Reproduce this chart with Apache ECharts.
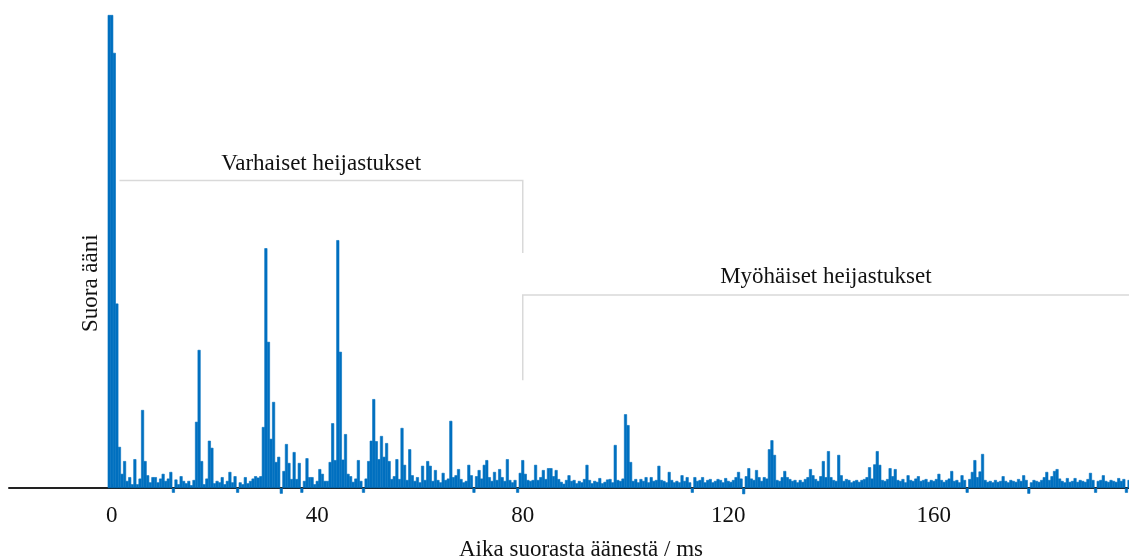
<!DOCTYPE html>
<html>
<head>
<meta charset="utf-8">
<script src="https://cdn.jsdelivr.net/npm/echarts@6/dist/echarts.min.js"></script>
<style>
html,body{margin:0;padding:0;background:#fff;}
#c{width:1129px;height:560px;}
</style>
</head>
<body>
<div id="c"></div>
<script>
// Direct sound (time in ms, relative amplitude)
const directTimes = [-0.5, 0, 0.5];
const directValues = [100, 100, 92];

// Reflections: sampled every 0.5 ms starting at 1.0 ms
const reflStart = 1.0;
const reflStep = 0.5;
const reflValues = [
  39, 8.7, 3, 5.7, 1.5, 2.3, 0.8, 6.1, 0.8, 2, 16.5, 5.7, 2.7, 1.2, 2.3, 2.3, 1.2, 2, 3, 1.5,
  2, 3.4, -1.0, 1.8, 0.8, 2.5, 1.5, 1.0, 1.5, 0.6, 1.7, 14, 29.2, 5.7, 0.8, 2, 10, 8.5, 1.0, 1.5,
  1.2, 2.3, 0.8, 1.5, 3.4, 1.2, 2.5, -1.0, 1.2, 0.8, 2.3, 1.0, 1.5, 2.0, 2.5, 2.2, 2.5, 12.9, 50.7, 30.9,
  10.4, 18.2, 5.5, 6.6, -1.2, 3.6, 9.3, 5.3, 1.9, 7.6, 1.9, 5.3, -1.0, 1.5, 6.3, 2.3, 2.3, 0.8, 1.5, 4.0,
  3.0, 1.5, 1.5, 5.5, 13.7, 5.9, 52.4, 28.8, 6, 11.4, 3, 2.5, 1.3, 2, 5.9, 1.5, -1.0, 2, 5.7, 10,
  18.8, 9.9, 6.1, 11, 6.6, 9.5, 5.7, 1.9, 2.5, 6.1, 1.9, 12.7, 4.9, 1.7, 8.2, 2.7, 1.5, 2.3, 1.2, 4.7,
  1.7, 5.7, 4.7, 1.5, 3.8, 1.7, 1.2, 3.2, 1.7, 2, 14.2, 2.3, 2.7, 4.0, 1.9, 1.2, 1.5, 4.9, 2.7, -1.0,
  2.5, 3.8, 2, 4.9, 5.9, 2.3, 1.5, 3.4, 1.7, 4.0, 2.3, 1.5, 6.1, 1.7, 1.2, 1.7, -1.0, 3.2, 5.9, 3.0,
  1.7, 1.5, 1.7, 4.9, 1.7, 2.3, 3.8, 1.9, 4.2, 4.2, 2.5, 3.8, 1.9, 1.3, 0.9, 1.7, 2.7, 1.5, 1.7, 1.0,
  1.5, 1.2, 1.9, 4.9, 1.7, 1.0, 1.5, 1.3, 2.1, 1.0, 1.3, 1.8, 1.9, 1.2, 9.1, 1.7, 1.5, 2, 15.6, 13.3,
  5.5, 1.5, 1.9, 1.2, 1.9, 1.5, 2.3, 1.2, 2.3, 1.5, 1.7, 4.7, 1.7, 1.5, 1.2, 3.4, 1.7, 1.2, 1.5, 1.2,
  2.7, 1.5, 2.3, 1.2, -1.0, 2.3, 1.5, 1.7, 2.3, 1.2, 1.7, 1.9, 1.2, 1.5, 1.9, 1.7, 1.2, 2.1, 1.5, 1.3,
  1.7, 2.3, 3.4, 2.0, -1.3, 2.5, 4.2, 2.0, 1.7, 3.8, 2.3, 1.5, 2.3, 2.0, 8.2, 10.1, 7.0, 1.7, 1.5, 2.3,
  3.6, 2.3, 1.9, 1.5, 1.7, 1.2, 1.7, 1.3, 1.9, 2.3, 4.0, 2.7, 1.9, 1.5, 2.5, 5.7, 2.3, 7.8, 2.3, 1.7,
  1.5, 7.0, 2.7, 1.5, 1.9, 1.7, 1.2, 1.5, 1.7, 1.3, 1.7, 1.9, 2.3, 4.4, 2.0, 5.0, 7.8, 4.9, 1.7, 1.5,
  1.9, 4.2, 2.5, 4.0, 1.7, 1.5, 1.9, 1.2, 2.7, 1.7, 1.5, 2.0, 2.5, 1.5, 1.7, 1.9, 1.3, 1.7, 1.5, 1.9,
  3.0, 1.7, 1.3, 1.7, 2.0, 3.6, 1.5, 1.7, 1.2, 2.7, 1.7, -1.0, 1.9, 3.4, 5.9, 2.3, 3.5, 7.2, 1.7, 1.3,
  1.5, 1.2, 1.7, 1.3, 1.5, 2.5, 1.5, 1.2, 1.7, 1.5, 1.3, 1.9, 1.5, 2.7, 1.7, -1.2, 1.2, 1.7, 1.5, 1.3,
  1.7, 2.3, 3.4, 1.7, 2.5, 3.6, 4.0, 2.0, 1.5, 1.2, 2.1, 1.3, 1.5, 2.1, 1.3, 1.7, 1.5, 1.3, 1.9, 3.2,
  1.7, -1.0, 1.5, 1.7, 2.7, 1.5, 1.3, 1.7, 1.5, 1.3, 2.1, 1.5, 1.9, -1.0, 1.7
];

const tickValues = [0, 40, 80, 120, 160];
const xTitle = 'Aika suorasta äänestä / ms';
const labelDirect = 'Suora ääni';
const labelEarly = 'Varhaiset heijastukset';
const labelLate = 'Myöhäiset heijastukset';

const seriesData = [];
directTimes.forEach((t, i) => seriesData.push([t, directValues[i]]));
reflValues.forEach((v, i) => seriesData.push([reflStart + i * reflStep, v]));

const FONT = '"Liberation Serif", "Times New Roman", serif';
const BLUE = '#0070C0';
const chart = echarts.init(document.getElementById('c'), null, {renderer: 'canvas'});

const option = {
  animation: false,
  backgroundColor: '#fff',
  grid: {left: 9, right: 0, top: 15, bottom: 62.5, containLabel: false, outerBoundsMode: 'none'},
  xAxis: {
    type: 'value', min: -20, max: 198,
    axisLine: {show: true, onZero: true, lineStyle: {color: '#222', width: 2}},
    axisTick: {show: true, inside: true, length: 4, customValues: tickValues, lineStyle: {color: '#222', width: 1.5}},
    axisLabel: {customValues: tickValues, margin: 7, fontFamily: FONT, fontSize: 23, color: '#111'},
    splitLine: {show: false},
    name: xTitle, nameLocation: 'middle', nameGap: 41,
    nameTextStyle: {fontFamily: FONT, fontSize: 23, color: '#111', padding: [0, 0, 0, 24]}
  },
  yAxis: {type: 'value', min: -2, max: 100, show: false},
  series: [{
    type: 'bar', data: seriesData, barWidth: 3,
    itemStyle: {color: BLUE, borderColor: BLUE, borderWidth: 0.6},
    z: 3
  }]
};
chart.setOption(option);

const p = (t, v) => chart.convertToPixel({gridIndex: 0}, [t, v]);
const gray = {stroke: '#d9d9d9', lineWidth: 1.5, fill: null};
const txt = (pt, text, rot) => ({
  type: 'text', x: pt[0], y: pt[1], rotation: rot || 0, silent: true,
  style: {text: text, font: '23px ' + FONT, fill: '#111', align: 'center', verticalAlign: 'middle'}
});
chart.setOption({
  graphic: [
    {type: 'polyline', silent: true, shape: {points: [p(1.5, 65), p(80, 65), p(80, 49.7)]}, style: gray},
    {type: 'polyline', silent: true, shape: {points: [p(80, 22.8), p(80, 40.8), p(198, 40.8)]}, style: gray},
    txt(p(40.75, 68.5), labelEarly),
    txt(p(139, 44.6), labelLate),
    txt(p(-4, 43.3), labelDirect, Math.PI / 2)
  ]
});
</script>
</body>
</html>
